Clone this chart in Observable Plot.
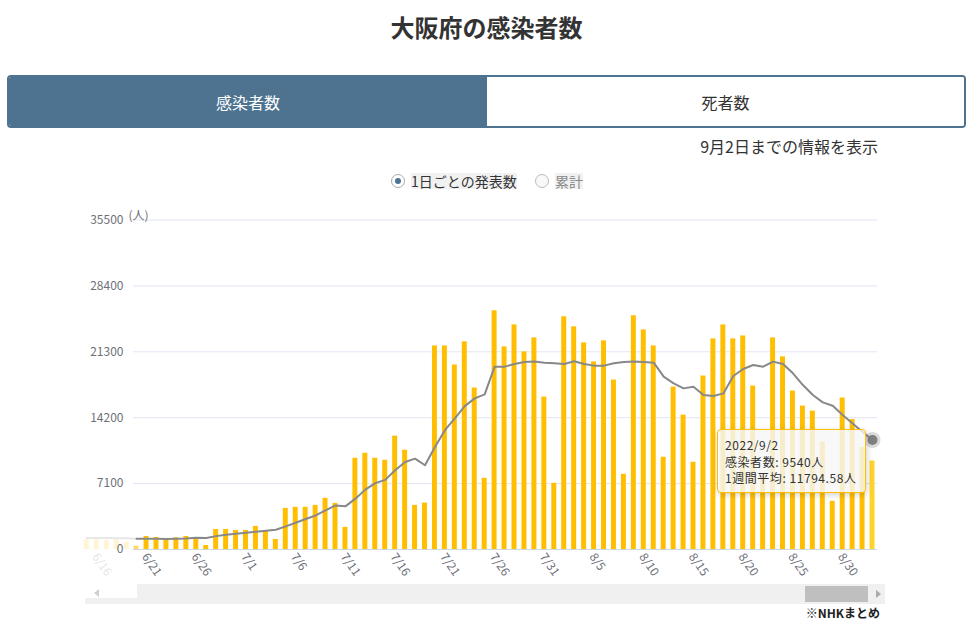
<!DOCTYPE html>
<html><head><meta charset="utf-8">
<script src="https://cdn.jsdelivr.net/npm/d3@7"></script>
<script src="https://cdn.jsdelivr.net/npm/@observablehq/plot@0.6"></script>
<style>
html,body{margin:0;padding:0;background:#fff;}
body{width:973px;height:632px;position:relative;overflow:hidden;font-family:"Noto Sans CJK JP","Noto Sans",sans-serif;color:#333;}
.abs{position:absolute;}
#title{left:0;width:973px;top:11px;text-align:center;font-size:24px;font-weight:700;line-height:32px;color:#333;}
#tabs{left:7px;top:75px;width:959px;height:53px;border:2px solid #4e7390;border-radius:4px;box-sizing:border-box;display:flex;overflow:hidden;}
#tabs div{display:flex;align-items:center;justify-content:center;font-size:16px;}
#tab1{width:478px;background:#4e7390;color:#fff;}
#tab2{flex:1;background:#fff;color:#333;}
#info{right:95px;top:134px;font-size:16px;line-height:24px;color:#333;}
.radio{width:14px;height:14px;border:1px solid #aaa;border-radius:50%;box-sizing:border-box;background:#fff;}
.radio .dot{position:absolute;left:3px;top:3px;width:6px;height:6px;border-radius:50%;background:#4e7390;}
.rlabel{font-size:14px;line-height:16px;background:#f1f1f1;}
#chart{left:0;top:200px;}
#track{left:85px;top:584px;width:800px;height:20px;background:#f0f0f0;}
#shadow{left:85px;top:584px;width:52px;height:14px;background:#fff;}
#handle{left:805px;top:586px;width:63px;height:16px;background:#bfbfbf;}
#arrL{left:94px;top:589px;width:0;height:0;border-top:4px solid transparent;border-bottom:4px solid transparent;border-right:5px solid #d0d0d0;}
#arrR{left:876px;top:590px;width:0;height:0;border-top:4px solid transparent;border-bottom:4px solid transparent;border-left:5px solid #aaa;}
#cap{right:93px;top:604px;font-size:12px;font-weight:700;line-height:18px;color:#222;}
#tip{left:717px;top:429px;width:149px;height:64px;box-sizing:border-box;background:rgba(247,247,247,0.82);border:1px solid #FFBF00;border-radius:4px;box-shadow:1px 2px 6px rgba(0,0,0,0.18);padding:7px 0 0 7px;font-size:12px;letter-spacing:0.55px;line-height:16.5px;color:#333;white-space:nowrap;}
</style>
</head><body>
<div id="title" class="abs">大阪府の感染者数</div>
<div id="tabs" class="abs"><div id="tab1">感染者数</div><div id="tab2">死者数</div></div>
<div id="info" class="abs">9月2日までの情報を表示</div>
<div class="abs radio" style="left:391px;top:174px;"><div class="dot"></div></div>
<div class="abs rlabel" style="left:411px;top:173px;">1日ごとの発表数</div>
<div class="abs radio" style="left:535px;top:174px;background:#f8f8f8;border-color:#bbb;"></div>
<div class="abs rlabel" style="left:555px;top:173px;color:#888;">累計</div>
<div id="chart" class="abs"></div>
<div id="track" class="abs"></div>
<div id="shadow" class="abs"></div>
<div id="handle" class="abs"></div>
<div id="arrL" class="abs"></div>
<div id="arrR" class="abs"></div>
<div id="cap" class="abs">※NHKまとめ</div>
<div id="tip" class="abs"></div>
<script>
// Dates 2022-06-15 .. 2022-09-02 (category labels)
const dates = d3.utcDay.range(new Date(Date.UTC(2022,5,15)), new Date(Date.UTC(2022,8,3)))
  .map(d => `${d.getUTCMonth()+1}/${d.getUTCDate()}`);

// Daily new cases
const cases = [
  1050,1050,970,1050,790,360,                      // 6/15-6/20
  1400,1300,1110,1260,1400,1110,430,2160,2160,2050, // 6/21-6/30
  2050,2490,1940,1080,4430,4540,4540,4750,5510,4970, // 7/1-7/10
  2380,9830,10370,9830,9610,12210,10700,4750,5000,21930, // 7/11-7/20
  21930,19880,22370,17400,7670,25720,21830,24200,21290,22800,16420, // 7/21-7/31
  7130,25070,23990,22260,20210,22480,18260,8100,25180,23660, // 8/1-8/10
  21930,9940,17500,14480,9400,18690,22690,24200,22690,23010, // 8/11-8/20
  17610,8000,22800,20750,17070,15450,14910,11560,5190,16320,14000, // 8/21-8/31
  11020,9540                                        // 9/1-9/2
];

// 1-week average
const avg = [
  1250,1240,1230,1220,1200,1170,
  1150,1150,1140,1160,1190,1260,1250,1440,1590,1690,
  1800,1910,2020,2130,2490,2880,3280,3670,4210,4750,
  4650,5480,6450,7150,7500,8540,9430,9790,9080,11050,
  12860,14120,15450,16280,16710,19700,19700,19990,20210,20250,20130,
  20060,19990,20280,19990,19810,19810,20060,20210,20250,20200,
  20130,18620,17900,17360,17540,16640,16530,16820,18690,19450,
  19880,19700,20240,19990,18980,17720,16640,15850,15480,14480,13580,
  12670,11794.58
];

const yTicks = [0, 7100, 14200, 21300, 28400, 35500];
const labelDates = ["6/21","6/26","7/1","7/6","7/11","7/16","7/21","7/26","7/31","8/5","8/10","8/15","8/20","8/25","8/30"];
const fadedLabel = ["6/16"];

const data = dates.map((date, i) => ({i, date, cases: cases[i], avg: avg[i]}));
const idx = d => dates.indexOf(d);
const last = data[data.length - 1];

const barOpts = {x1: d => d.i - 0.25, x2: d => d.i + 0.25, y: "cases"};
const axisStyle = {tickSize: 0, fontSize: 12, fill: "#6e7079"};
const xAxisStyle = {...axisStyle, tickFormat: i => dates[i], tickRotate: 55, tickPadding: 5, dx: -2};

const chart = Plot.plot({
  width: 973,
  height: 400,
  marginLeft: 133,
  marginRight: 96,
  marginTop: 19.5,
  marginBottom: 51,
  x: {domain: [-0.5, dates.length - 0.5], range: [81.4, 877], label: null},
  y: {domain: [0, 35500], label: null},
  style: {background: "transparent", fontFamily: "'Noto Sans CJK JP', sans-serif", fontSize: "12px", color: "#6e7079", overflow: "visible"},
  marks: [
    Plot.gridY(yTicks, {stroke: "#e0e6f1", strokeOpacity: 1}),
    Plot.rectY(data.filter(d => d.i < 5), {...barOpts, fill: "#FFBF00", fillOpacity: 0.17}),
    Plot.rectY(data.filter(d => d.i === 5), {...barOpts, fill: "#FFBF00", fillOpacity: 0.6}),
    Plot.rectY(data.filter(d => d.i > 5 && d.i < data.length - 1), {...barOpts, fill: "#FFBF00"}),
    Plot.rectY([last], {...barOpts, fill: "#FFD42A"}),
    Plot.ruleY([0], {stroke: "#ccd6e0"}),
    Plot.line(data.filter(d => d.i <= 5), {x: "i", y: "avg", stroke: "#888", strokeWidth: 2, strokeOpacity: 0.2}),
    Plot.line(data.filter(d => d.i >= 5), {x: "i", y: "avg", stroke: "#888", strokeWidth: 2}),
    Plot.dot([last], {x: "i", y: "avg", r: 8, fill: "#888", fillOpacity: 0.3}),
    Plot.dot([last], {x: "i", y: "avg", r: 5, fill: "#808080"}),
    Plot.axisY({...axisStyle, ticks: yTicks, tickFormat: d => String(d), tickPadding: 10}),
    Plot.axisX(labelDates.map(idx), xAxisStyle),
    Plot.axisX(fadedLabel.map(idx), {...xAxisStyle, opacity: 0.2}),
    Plot.text(["(人)"], {frameAnchor: "top-left", dx: -5, dy: -9, textAnchor: "start", fill: "#6e7079", fontSize: 12})
  ]
});
document.getElementById("chart").appendChild(chart);

document.getElementById("tip").innerHTML =
  `2022/${last.date}<br>感染者数: ${last.cases}人<br>1週間平均: ${last.avg}人`;
</script>
</body></html>
